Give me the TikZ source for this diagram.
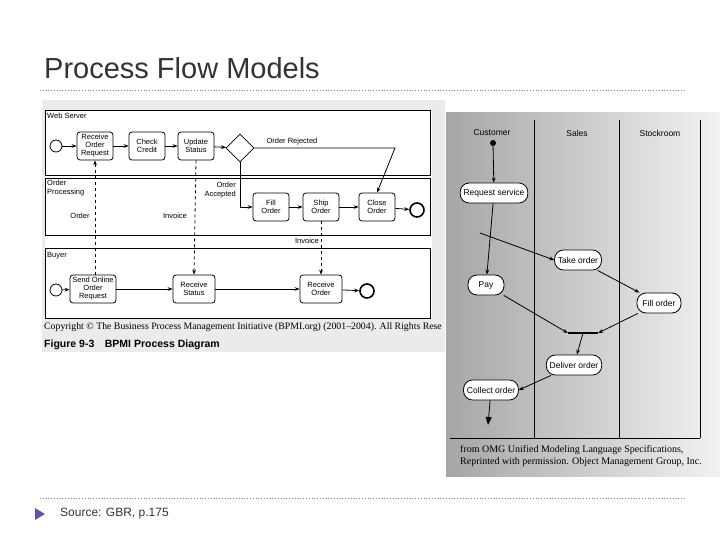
\documentclass[tikz,border=0pt]{standalone}
\usepackage{fontspec}
\setmainfont{Liberation Sans}
\newfontfamily\serif{Liberation Serif}
\usetikzlibrary{shapes.geometric,arrows.meta}
\begin{document}
\begin{tikzpicture}[x=1pt,y=-1pt,
  act/.style={draw,thick,rounded corners=3pt,minimum width=36pt,minimum height=28pt,align=center,font=\fontsize{7.5}{8}\selectfont,inner sep=1pt},
  uml/.style={draw,thick,rounded corners=9pt,minimum height=20pt,font=\fontsize{8.5}{9}\selectfont,fill=white},
  arr/.style={-{Stealth[length=5pt]},thick},
  lbl/.style={font=\fontsize{7.5}{8.5}\selectfont,inner sep=1pt},
  dsh/.style={thick,dashed,-{Stealth[length=5pt]}}]
\useasboundingbox (0,0) rectangle (720,540);
\fill[white] (0,0) rectangle (720,540);
\node[anchor=west,font=\fontsize{29}{32}\selectfont,text=black!80,inner sep=0] (title) at (44,68) {Process Flow Models};
\draw[gray,dotted,thick] (40,90) -- (685,90);
\draw[gray,dotted,thick] (40,498) -- (685,498);
\fill[gray!70!blue] (35,508) -- (45,514) -- (35,520) -- cycle;
\node[anchor=west,font=\fontsize{12}{13}\selectfont,text=black!80,inner sep=0] (src) at (60,514) {Source: GBR, p.175};
% left image
\fill[black!8] (42,100) rectangle (445,352);
\fill[white] (45,110) rectangle (432,318);
\draw[thick] (45,110) rectangle (430,175);
\draw[thick] (45,178) rectangle (430,235);
\draw[thick] (45,248) rectangle (430,318);
\node[lbl,anchor=west] (l1) at (46,116) {Web Server};
\node[lbl,anchor=west,align=left] (l2) at (46,188) {Order\\Processing};
\node[lbl,anchor=west] (l3) at (46,256) {Buyer};
\node[draw,thick,circle,minimum size=12pt] (s1) at (56,146) {};
\node[act] (ror) at (95,146) {Receive\\Order\\Request};
\node[act] (cc) at (147,146) {Check\\Credit};
\node[act] (us) at (196,146) {Update\\Status};
\node[draw,thick,diamond,minimum size=28pt,inner sep=0] (dm) at (240,148) {};
\node[act] (fo) at (271,207) {Fill\\Order};
\node[act] (so) at (321,207) {Ship\\Order};
\node[act] (co) at (377,207) {Close\\Order};
\node[draw,ultra thick,circle,minimum size=14pt] (e1) at (417,210) {};
\node[draw,thick,circle,minimum size=12pt] (s2) at (56,290) {};
\node[act,minimum width=46pt] (sor) at (93,289) {Send Online\\Order\\Request};
\node[act,minimum width=42pt] (rs) at (194,289) {Receive\\Status};
\node[act,minimum width=42pt] (ro) at (321,289) {Receive\\Order};
\node[draw,ultra thick,circle,minimum size=14pt] (e2) at (367,291) {};
\draw[arr] (s1) -- (ror); \draw[arr] (ror) -- (cc); \draw[arr] (cc) -- (us); \draw[arr] (us) -- (dm);
\draw[arr] (dm.east) -- (395,148) -- (co.north);
\node[lbl] (orj) at (292,142) {Order Rejected};
\draw[arr] (dm.south) |- (fo.west);
\node[lbl,align=right,anchor=east] (oa) at (237,190) {Order\\Accepted};
\draw[arr] (fo) -- (so); \draw[arr] (so) -- (co); \draw[arr] (co) -- (e1);
\draw[arr] (s2) -- (sor); \draw[arr] (sor) -- (rs); \draw[arr] (rs) -- (ro); \draw[arr] (ro) -- (e2);
\draw[dsh] (sor.north -| ror) -- (ror.south);
\node[lbl,fill=white] (ol) at (80,216) {Order};
\draw[dsh] (us.south) -- (rs.north);
\node[lbl,fill=white] (il1) at (175,216) {Invoice};
\draw[dsh] (so.south) -- (ro.north);
\node[lbl,fill=white] (il2) at (307,241) {Invoice};
\node[anchor=west,font=\serif\fontsize{9.8}{10}\selectfont,inner sep=0] (cp) at (44,327) {Copyright © The Business Process Management Initiative (BPMI.org) (2001–2004). All Rights Rese};
\node[anchor=west,font=\bfseries\fontsize{10.5}{11}\selectfont,inner sep=0] (fig) at (44,345) {Figure 9-3\quad BPMI Process Diagram};
% right image
\shade[left color=black!35,right color=black!5] (446,113) rectangle (720,476);
\draw[thick] (534,120) -- (534,438); \draw[thick] (619,120) -- (619,438);
\draw[thick] (450,438) -- (700,438); \draw[thick] (700,120) -- (700,438);
\node[lbl,font=\fontsize{8.5}{9}\selectfont] (h1) at (492,133) {Customer};
\node[lbl,font=\fontsize{8.5}{9}\selectfont] (h2) at (577,133) {Sales};
\node[lbl,font=\fontsize{8.5}{9}\selectfont] (h3) at (660,133) {Stockroom};
\fill (493,143) circle (3pt); \coordinate (st) at (493,143);
\node[uml,minimum width=62pt] (rq) at (494,193) {Request service};
\node[uml,minimum width=46pt] (to) at (578,260) {Take order};
\node[uml,minimum width=36pt] (py) at (486,285) {Pay};
\node[uml,minimum width=44pt] (fl) at (659,303) {Fill order};
\node[fill,minimum width=30pt,minimum height=2pt,inner sep=0] (jn) at (583,333) {};
\node[uml,minimum width=52pt] (dl) at (574,365) {Deliver order};
\node[uml,minimum width=52pt] (cl) at (491,390) {Collect order};
\coordinate (en) at (488,425);
\coordinate (br) at (480,233);
\draw[arr] (st) -- (rq);
\draw[arr] (rq) -- (py);
\draw[arr] (br) -- (to.west);
\draw[arr] (to) -- (fl);
\draw[arr] (py) -- (jn.west);
\draw[arr] (fl) -- (jn.east);
\draw[arr] (jn) -- (dl);
\draw[arr] (dl) -- (cl.east);
\draw[-{Triangle[length=8pt,width=6pt]},thick] (cl) -- (en);
\node[anchor=west,font=\serif\fontsize{10}{12}\selectfont,inner sep=0,align=left] (cap) at (450,456) {\quad from OMG Unified Modeling Language Specifications,\\\quad Reprinted with permission. Object Management Group, Inc.};
\end{tikzpicture}
\end{document}
